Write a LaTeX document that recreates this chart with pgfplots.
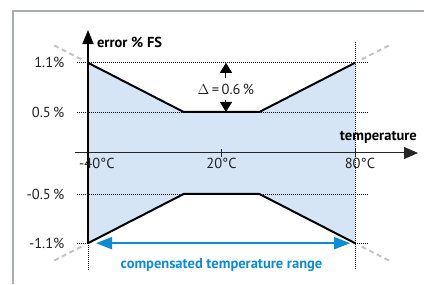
\documentclass[border=0pt]{standalone}
\usepackage{fontspec}
\setmainfont{PT Sans}
\usepackage{pgfplots}
\pgfplotsset{compat=1.18}
\usetikzlibrary{arrows.meta}
\definecolor{fillblue}{HTML}{D5E5F6}
\definecolor{arrowblue}{HTML}{0E8BD6}
\definecolor{extgray}{HTML}{C4C4C4}
\definecolor{framegray}{HTML}{A8AEB4}
\definecolor{txt}{HTML}{222222}
\begin{document}
\begin{tikzpicture}
\begin{axis}[
  name=ax,
  width=424pt, height=284pt, scale only axis,
  xmin=-79.55, xmax=111.0, ymin=-1.598, ymax=1.866,
  hide axis, clip=false,
  font=\fontsize{14.5}{16}\selectfont,
]
% frame
\addplot[framegray, line width=1.3pt] coordinates {(-73.7,-1.598) (-73.7,1.732) (111,1.732)};
% filled tolerance band
\addplot[fill=fillblue, draw=none] coordinates {(-40,1.1) (3,0.5) (37,0.5) (80,1.1) (80,-1.1) (37,-0.5) (3,-0.5) (-40,-1.1)} -- cycle;
% dotted reference lines
\addplot[black, line width=0.7pt, dash pattern=on 0.7pt off 1.3pt] coordinates {(-44.9,1.1) (85.8,1.1)};
\addplot[black, line width=0.7pt, dash pattern=on 0.7pt off 1.3pt] coordinates {(-44.9,0.5) (85.8,0.5)};
\addplot[black, line width=0.7pt, dash pattern=on 0.7pt off 1.3pt] coordinates {(-44.9,-0.5) (85.8,-0.5)};
\addplot[black, line width=0.7pt, dash pattern=on 0.7pt off 1.3pt] coordinates {(-44.9,-1.1) (-40,-1.1)};
\addplot[black, line width=0.7pt, dash pattern=on 0.7pt off 1.3pt] coordinates {(80,-1.1) (85.8,-1.1)};
\addplot[black, line width=0.7pt, dash pattern=on 0.7pt off 1.3pt] coordinates {(80,1.354) (80,-1.427)};
\addplot[black, line width=0.7pt, dash pattern=on 0.7pt off 1.3pt] coordinates {(-40,-1.1) (-40,-1.427)};
% dashed gray extensions
\addplot[extgray, line width=2pt, dash pattern=on 5pt off 3.5pt] coordinates {(-43,1.142) (-56,1.323)};
\addplot[extgray, line width=2pt, dash pattern=on 5pt off 3.5pt] coordinates {(83,1.142) (96,1.323)};
\addplot[extgray, line width=2pt, dash pattern=on 5pt off 3.5pt] coordinates {(-43,-1.142) (-56,-1.323)};
\addplot[extgray, line width=2pt, dash pattern=on 5pt off 3.5pt] coordinates {(83,-1.142) (96,-1.323)};
% x axis
\addplot[black!85, line width=1pt, -{Triangle[length=14pt,width=12pt]}] coordinates {(-45.8,0) (108.3,0)};
\addplot[black!85, line width=1pt] coordinates {(20,0.05) (20,-0.05)};
\addplot[black!85, line width=1pt] coordinates {(80,0.05) (80,-0.05)};
% y axis
\addplot[black, line width=1.8pt, -{Triangle[length=14pt,width=11pt]}] coordinates {(-40,-1.1) (-40,1.5)};
% error curves
\addplot[black, line width=2pt, line join=round] coordinates {(-40,1.1) (3,0.5) (37,0.5) (80,1.1)};
\addplot[black, line width=2pt, line join=round] coordinates {(-40,-1.1) (3,-0.5) (37,-0.5) (80,-1.1)};
% delta arrows
\addplot[black, line width=1pt, -{Triangle[length=10pt,width=12pt]}] coordinates {(22,0.915) (22,1.1)};
\addplot[black, line width=1pt, -{Triangle[length=10pt,width=12pt]}] coordinates {(22,0.646) (22,0.5)};
\node[text=txt] at (axis cs:22,0.78) {$\Delta$\,=\,0.6\,\%};
% compensated range arrow
\addplot[arrowblue, line width=2pt, {Triangle[length=16pt,width=12pt]}-{Triangle[length=16pt,width=12pt]}] coordinates {(-36.4,-1.1) (77.8,-1.1)};
\node[text=arrowblue, font=\fontsize{14.5}{16}\selectfont\bfseries] at (axis cs:20,-1.366) {compensated temperature range};
% labels
\node[anchor=east, text=txt] at (axis cs:-49,1.1) {1.1\%};
\node[anchor=east, text=txt] at (axis cs:-49,0.5) {0.5\,\%};
\node[anchor=east, text=txt] at (axis cs:-49,-0.5) {-0.5\,\%};
\node[anchor=east, text=txt] at (axis cs:-49,-1.1) {-1.1\%};
\node[anchor=north, text=txt] at (axis cs:-36,-0.02) {-40°C};
\node[anchor=north, text=txt] at (axis cs:20,-0.02) {20°C};
\node[anchor=north, text=txt] at (axis cs:82.2,-0.02) {80°C};
\node[font=\fontsize{14.5}{16}\selectfont\bfseries] at (axis cs:90.5,0.19) {temperature};
\node[anchor=west, font=\fontsize{14.5}{16}\selectfont\bfseries] at (axis cs:-37.5,1.354) {error \% FS};
\end{axis}
\pgfresetboundingbox
\path[use as bounding box] (ax.south west) rectangle (ax.north east);
\end{tikzpicture}
\end{document}
